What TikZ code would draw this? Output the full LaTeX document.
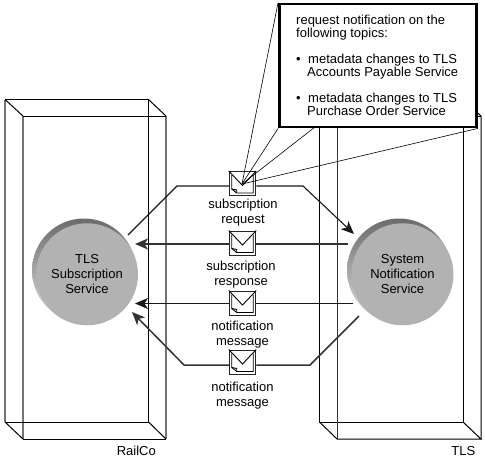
\documentclass[tikz,border=0pt]{standalone}
\usepackage{fontspec}
\setmainfont{Liberation Sans}
\usetikzlibrary{arrows.meta,calc}
\definecolor{boxgray}{gray}{0.45}
\definecolor{facegray}{gray}{0.70}
\definecolor{flow}{gray}{0.2}
\tikzset{
  x=1pt,y=-1pt,
  backedge/.style={draw=black,line width=1pt},
  frontedge/.style={draw=boxgray,line width=1.3pt},
  flowline/.style={draw=flow,line width=1.9pt},
  thinflow/.style={draw=black!90,line width=1.1pt},
  tipped/.style={-{Stealth[length=13pt,width=11pt,inset=3.5pt]}},
  lbl/.style={font=\fontsize{13}{15}\selectfont,align=center,inner sep=0pt},
  svc/.style={font=\fontsize{13}{15}\selectfont,align=center,inner sep=0pt,text=black},
  env/.style={draw=black!85,line width=1pt,fill=white,minimum width=26.5pt,minimum height=24pt,inner sep=0pt},
  face/.style={circle,fill=facegray,minimum size=102pt,inner sep=0pt},
  calloutline/.style={draw=black,line width=0.6pt},
  txt/.style={anchor=base west,inner sep=0pt,font=\fontsize{13}{13}\selectfont},
}
\newcommand{\envicon}[1]{%
  \draw[line width=0.9pt] (#1.north west) -- ($(#1.center)+(0,2)$) -- (#1.north east);
  \draw[line width=0.9pt] ($(#1.north west)+(3,4)$) -- ($(#1.south west)+(3,-7)$) -- ($(#1.south west)+(8,-3)$) -- ($(#1.south east)+(-3,-3)$) -- ($(#1.north east)+(-3,4)$);
  \draw[line width=0.9pt] ($(#1.south west)+(3,-7)$) -- ($(#1.south west)+(8,-6)$) -- ($(#1.south west)+(8,-3)$);
}
\begin{document}
\begin{tikzpicture}
\useasboundingbox (0,0) rectangle (485,459);
% left container
\coordinate (lbtl) at (5,99.5); \coordinate (lbtr) at (148.5,99.5); \coordinate (lbbl) at (5,422); \coordinate (lbbr) at (148.5,422);
\coordinate (lftl) at (23,116); \coordinate (lftr) at (166,116); \coordinate (lfbl) at (23,439); \coordinate (lfbr) at (166,439);
\draw[frontedge] (lbbl) -- (lbtl);
\draw[frontedge] (lftl) -- (lfbl) (lftr) -- (lfbr);
\draw[backedge] (lbbl) -- (lbbr) -- (lbtr) -- (lbtl);
\draw[backedge] (lbtl) -- (lftl) (lbtr) -- (lftr) (lbbl) -- (lfbl) (lbbr) -- (lfbr);
\draw[backedge] (lftl) -- (lftr) (lfbl) -- (lfbr);
% right container
\coordinate (rbtl) at (319.5,99.5); \coordinate (rbtr) at (463,99.5); \coordinate (rbbl) at (319.5,422); \coordinate (rbbr) at (463,422);
\coordinate (rftl) at (337,116); \coordinate (rftr) at (481,116); \coordinate (rfbl) at (337,439); \coordinate (rfbr) at (481,439);
\draw[backedge] (rbtl) -- (rbbl) -- (rbbr) -- (rbtr) -- (rbtl);
\draw[backedge] (rbbl) -- (rfbl) -- (rfbr) -- (rbbr);
\draw[backedge] (rbtr) -- (rftr) -- (rfbr);
\draw[backedge] (rftl) -- (rftr);
\draw[backedge] (rbtl) -- (rftl);
\draw[draw=black!80,line width=1pt] (rftl) -- (rfbl);
% services
\shade[top color=black!58,bottom color=black!12] (84,270.5) circle (52);
\node[face] (tss) at (87,274.3) {};
\node[svc] at (tss.center) {TLS\\Subscription\\Service};
\shade[top color=black!58,bottom color=black!12] (399,270.5) circle (52);
\node[face] (sns) at (402.5,274.3) {};
\node[svc] at (sns.center) {System\\Notification\\Service};
% envelopes
\node[env] (e1) at (242.5,183.5) {};
\node[env] (e2) at (242.5,243) {};
\node[env] (e3) at (242.5,303) {};
\node[env] (e4) at (242.5,362) {};
\envicon{e1}\envicon{e2}\envicon{e3}\envicon{e4}
% flows
\coordinate (a1s) at (128,235); \coordinate (a1b) at (177,186); \coordinate (a1c) at (303,186); \coordinate (a1t) at (354,234);
\draw[thinflow] (a1s) -- (a1b) -- (e1.west |- a1b);
\draw[thinflow,tipped] (e1.east |- a1c) -- (a1c) -- (a1t);
\coordinate (a2s) at (348,244); \coordinate (a2t) at (135,244);
\draw[flowline] (a2s) -- (e2.east |- a2s);
\draw[flowline,tipped] (e2.west |- a2s) -- (a2t);
\coordinate (a3s) at (353,303.5); \coordinate (a3t) at (135,303.5);
\draw[thinflow] (a3s) -- (e3.east |- a3s);
\draw[thinflow,tipped] (e3.west |- a3s) -- (a3t);
\coordinate (a4s) at (359,316); \coordinate (a4b) at (310,365); \coordinate (a4c) at (184,365); \coordinate (a4t) at (132,312);
\draw[flowline,line width=1.5pt] (a4s) -- (a4b) -- (e4.east |- a4b);
\draw[flowline,line width=1.5pt,tipped] (e4.west |- a4c) -- (a4c) -- (a4t);
% labels
\node[lbl] (l1) at (243,213) {subscription\\request};
\node[lbl] (l2) at (241,274.5) {subscription\\response};
\node[lbl] (l3) at (242.5,334.5) {notification\\message};
\node[lbl] (l4) at (242.5,396) {notification\\message};
\node[txt,anchor=base east] (rc) at (156,455) {RailCo};
\node[txt,anchor=base east] (tl) at (475.5,455) {TLS};
% callout
\node[draw=black,line width=2.8pt,fill=white,minimum width=197pt,minimum height=123pt,inner sep=0pt] (co) at (378,65.5) {};
\coordinate (pt) at (242,184);
\draw[calloutline] (pt) -- (co.north west);
\draw[calloutline] (pt) -- (co.south west);
\draw[calloutline] (pt) -- (315,127);
\draw[calloutline] (pt) -- (co.south east);
\node[txt] (c1) at (296,24.5) {request notification on the};
\node[txt] (c1b) at (296,37.5) {following topics:};
\node[txt] (b1) at (296,63) {•};
\node[txt] (c2) at (308,63) {metadata changes to TLS};
\node[txt] (c2b) at (307,76) {Accounts Payable Service};
\node[txt] (b2) at (296,102) {•};
\node[txt] (c3) at (308,102) {metadata changes to TLS};
\node[txt] (c3b) at (307,115) {Purchase Order Service};
\end{tikzpicture}
\end{document}
